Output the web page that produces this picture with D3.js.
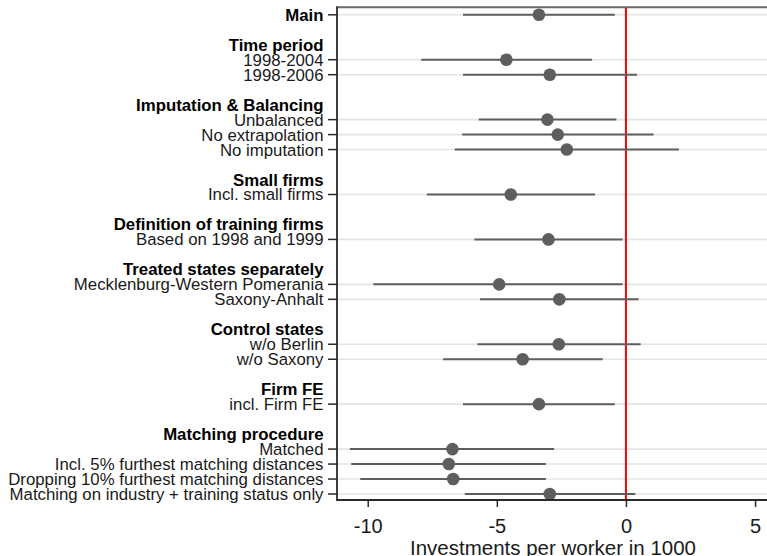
<!DOCTYPE html>
<html>
<head>
<meta charset="utf-8">
<script src="https://cdn.jsdelivr.net/npm/d3@7"></script>
<style>
  html, body { margin: 0; padding: 0; background: #fff; }
  svg { display: block; }
  text { font-family: "Liberation Sans", Arial, sans-serif; }
</style>
</head>
<body>
<svg id="chart" width="767" height="556"></svg>
<script>
// Robustness checks: point estimates with confidence intervals
const groupNames = [
  "", "Time period", "Imputation & Balancing", "Small firms",
  "Definition of training firms", "Treated states separately",
  "Control states", "Firm FE", "Matching procedure"
];
const specLabels = [
  "Main",
  "1998-2004", "1998-2006",
  "Unbalanced", "No extrapolation", "No imputation",
  "Incl. small firms",
  "Based on 1998 and 1999",
  "Mecklenburg-Western Pomerania", "Saxony-Anhalt",
  "w/o Berlin", "w/o Saxony",
  "incl. Firm FE",
  "Matched", "Incl. 5% furthest matching distances",
  "Dropping 10% furthest matching distances",
  "Matching on industry + training status only"
];
const specGroup = [0, 1, 1, 2, 2, 2, 3, 4, 5, 5, 6, 6, 7, 8, 8, 8, 8];
const estimates = [-3.37, -4.63, -2.95, -3.04, -2.64, -2.29, -4.46, -3.00,
                   -4.91, -2.58, -2.60, -4.00, -3.37, -6.72, -6.86, -6.69, -2.95];
const ciLower   = [-6.31, -7.93, -6.31, -5.70, -6.34, -6.63, -7.71, -5.87,
                   -9.78, -5.65, -5.75, -7.08, -6.31, -10.69, -10.64, -10.29, -6.24];
const ciUpper   = [-0.43, -1.31, 0.43, -0.37, 1.07, 2.05, -1.20, -0.13,
                   -0.13, 0.49, 0.57, -0.90, -0.43, -2.78, -3.10, -3.10, 0.36];
const xTicks = [-10, -5, 0, 5];
const xTitle = "Investments per worker in 1000";

// Assign row slots: a blank row and a bold header before each group after the first
const rows = [];
let slot = 0, lastGroup = -1;
specLabels.forEach((label, i) => {
  const g = specGroup[i];
  if (g !== lastGroup && g > 0) {
    slot += 1;
    rows.push({ slot: slot, label: groupNames[g], header: true });
    slot += 1;
  }
  rows.push({ slot: slot, label: label, header: g === 0, data: true,
              est: estimates[i], lo: ciLower[i], hi: ciUpper[i] });
  lastGroup = g;
  slot += 1;
});

const plotLeft = 337, plotRight = 769, plotTop = 7.3, plotBottom = 500;
const x = d3.scaleLinear().domain([-11.19, 5.54]).range([plotLeft, plotRight]);
const y = d3.scaleLinear().domain([-0.5, 32.4]).range([plotTop, plotBottom]);

const svg = d3.select("#chart");
const dataRows = rows.filter(r => r.data);

// horizontal grid lines at each estimate row
svg.append("g").selectAll("line").data(dataRows).join("line")
  .attr("x1", plotLeft).attr("x2", plotRight)
  .attr("y1", d => y(d.slot)).attr("y2", d => y(d.slot))
  .attr("stroke", "#e4e4e4").attr("stroke-width", 1.6);

// zero reference line
svg.append("line")
  .attr("x1", x(0)).attr("x2", x(0)).attr("y1", plotTop).attr("y2", plotBottom)
  .attr("stroke", "#ff0000").attr("stroke-width", 2);

// confidence intervals
svg.append("g").selectAll("line").data(dataRows).join("line")
  .attr("x1", d => x(d.lo)).attr("x2", d => x(d.hi))
  .attr("y1", d => y(d.slot)).attr("y2", d => y(d.slot))
  .attr("stroke", "#5e5e5e").attr("stroke-width", 2);

// point estimates
svg.append("g").selectAll("circle").data(dataRows).join("circle")
  .attr("cx", d => x(d.est)).attr("cy", d => y(d.slot)).attr("r", 6.3)
  .attr("fill", "#5e5e5e");

// plot frame: top border and left axis line
svg.append("line")
  .attr("x1", plotLeft).attr("x2", plotRight).attr("y1", plotTop).attr("y2", plotTop)
  .attr("stroke", "#6a6a6a").attr("stroke-width", 2);
svg.append("line")
  .attr("x1", plotLeft).attr("x2", plotLeft).attr("y1", plotTop - 1).attr("y2", plotBottom + 1)
  .attr("stroke", "#2a2a2a").attr("stroke-width", 1.8);

// left ticks and labels
svg.append("g").selectAll("line").data(dataRows).join("line")
  .attr("x1", plotLeft - 9).attr("x2", plotLeft)
  .attr("y1", d => y(d.slot)).attr("y2", d => y(d.slot))
  .attr("stroke", "#2a2a2a").attr("stroke-width", 1.5);

svg.append("g").selectAll("text").data(rows).join("text")
  .attr("x", 323.5).attr("y", d => y(d.slot) + 6)
  .attr("text-anchor", "end")
  .attr("font-size", "16.8px")
  .attr("font-weight", d => d.header ? "bold" : "normal")
  .attr("fill", d => d.header ? "#000" : "#1a1a1a")
  .text(d => d.label);

// bottom axis
const xAxis = d3.axisBottom(x).tickValues(xTicks).tickSize(7).tickPadding(12)
  .tickFormat(d3.format("d"));
const gx = svg.append("g").attr("transform", `translate(0,${plotBottom})`).call(xAxis);
gx.select(".domain").attr("stroke", "#2a2a2a").attr("stroke-width", 1.8)
  .attr("d", `M${plotLeft},0H${plotRight}`);
gx.selectAll(".tick line").attr("stroke", "#2a2a2a").attr("stroke-width", 1.5);
gx.selectAll(".tick text").attr("font-size", "20px").attr("fill", "#1a1a1a")
  .attr("font-family", "'Liberation Sans', Arial, sans-serif")
  .text(d => d < 0 ? "-" + Math.abs(d) : d);

svg.append("text")
  .attr("x", (plotLeft + plotRight) / 2).attr("y", 554.5)
  .attr("text-anchor", "middle").attr("font-size", "20.5px").attr("fill", "#1a1a1a")
  .text(xTitle);
</script>
</body>
</html>
